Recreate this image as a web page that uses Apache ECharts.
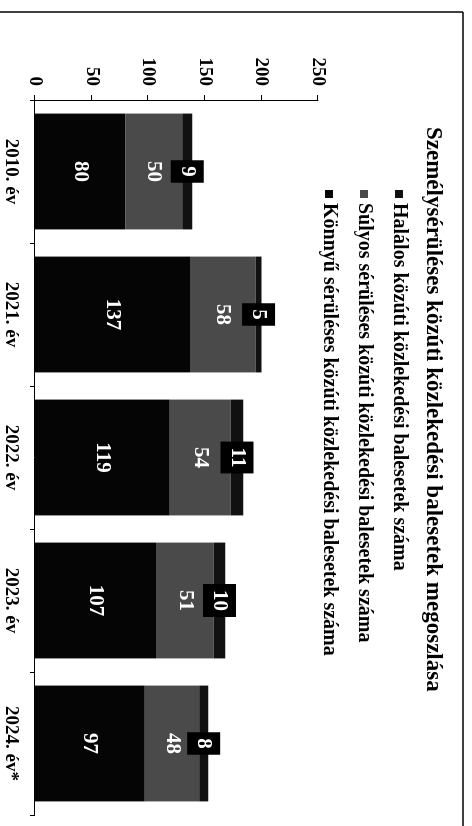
<!DOCTYPE html>
<html>
<head>
<meta charset="utf-8">
<script src="https://cdn.jsdelivr.net/npm/echarts@6/dist/echarts.min.js"></script>
<style>
  html, body { margin: 0; padding: 0; background: #fff; overflow: hidden; width: 472px; height: 826px; }
  /* the scanned page is turned 90deg clockwise, so the whole chart is drawn upright and rotated */
  #chart { position: absolute; left: 0; top: 0; width: 826px; height: 472px;
    transform-origin: 0 0; transform: translate(472px, 0) rotate(90deg); }
</style>
</head>
<body>
<div id="chart"></div>
<script>
const categories = ['2010. év', '2021. év', '2022. év', '2023. év', '2024. év*'];
const konnyu = [80, 137, 119, 107, 97];
const sulyos = [50, 58, 54, 51, 48];
const halalos = [9, 5, 11, 10, 8];

const nameHalalos = 'Halálos közúti közlekedési balesetek száma';
const nameSulyos = 'Súlyos sérüléses közúti közlekedési balesetek száma';
const nameKonnyu = 'Könnyű sérüléses közúti közlekedési balesetek száma';

const serif = '"Liberation Serif", "DejaVu Serif", serif';

const chart = echarts.init(document.getElementById('chart'), null, { renderer: 'canvas' });

const option = {
  backgroundColor: '#fff',
  animation: false,
  title: {
    text: 'Személysérüléses közúti közlekedési balesetek megoszlása',
    left: 127,
    top: 28,
    padding: 0,
    textStyle: { fontFamily: serif, fontWeight: 'bold', fontSize: 23, color: '#000' }
  },
  legend: {
    orient: 'vertical',
    left: 190,
    top: 63,
    padding: 0,
    itemGap: 15,
    itemWidth: 8,
    itemHeight: 8,
    icon: 'rect',
    data: [nameHalalos, nameSulyos, nameKonnyu],
    textStyle: { fontFamily: serif, fontWeight: 'bold', fontSize: 20, lineHeight: 20, color: '#000' }
  },
  grid: { left: 100, right: 11, top: 154, bottom: 35 },
  xAxis: {
    type: 'category',
    data: categories,
    axisLine: { lineStyle: { color: '#000', width: 1 } },
    axisTick: { show: true, length: 5, lineStyle: { color: '#000' } },
    axisLabel: { margin: 15, color: '#000', fontFamily: serif, fontWeight: 'bold', fontSize: 19 }
  },
  yAxis: {
    type: 'value',
    min: 0,
    max: 250,
    interval: 50,
    axisLine: { show: true, lineStyle: { color: '#000', width: 1 } },
    axisTick: { show: true, length: 5, lineStyle: { color: '#000' } },
    splitLine: { show: false },
    axisLabel: { margin: 14, color: '#000', fontFamily: serif, fontWeight: 'bold', fontSize: 19 }
  },
  series: [
    {
      name: nameKonnyu,
      type: 'bar',
      stack: 'total',
      barCategoryGap: '19%',
      data: konnyu,
      itemStyle: { color: '#050505' },
      label: { show: true, position: 'inside', color: '#fff', fontFamily: serif, fontWeight: 'bold', fontSize: 21 }
    },
    {
      name: nameSulyos,
      type: 'bar',
      stack: 'total',
      data: sulyos,
      itemStyle: { color: '#4a4a4a' },
      label: { show: true, position: 'inside', color: '#fff', fontFamily: serif, fontWeight: 'bold', fontSize: 21 }
    },
    {
      name: nameHalalos,
      type: 'bar',
      stack: 'total',
      data: halalos,
      itemStyle: { color: '#111' },
      label: {
        show: true, position: 'inside', color: '#fff', fontFamily: serif, fontWeight: 'bold', fontSize: 21,
        backgroundColor: '#000', padding: [6, 6]
      }
    }
  ],
  graphic: [
    { type: 'line', shape: { x1: 12, y1: 9, x2: 12, y2: 472 }, style: { stroke: '#000', lineWidth: 1.5 } },
    { type: 'line', shape: { x1: 12, y1: 9, x2: 826, y2: 9 }, style: { stroke: '#000', lineWidth: 1.5 } }
  ]
};

chart.setOption(option);
</script>
</body>
</html>
